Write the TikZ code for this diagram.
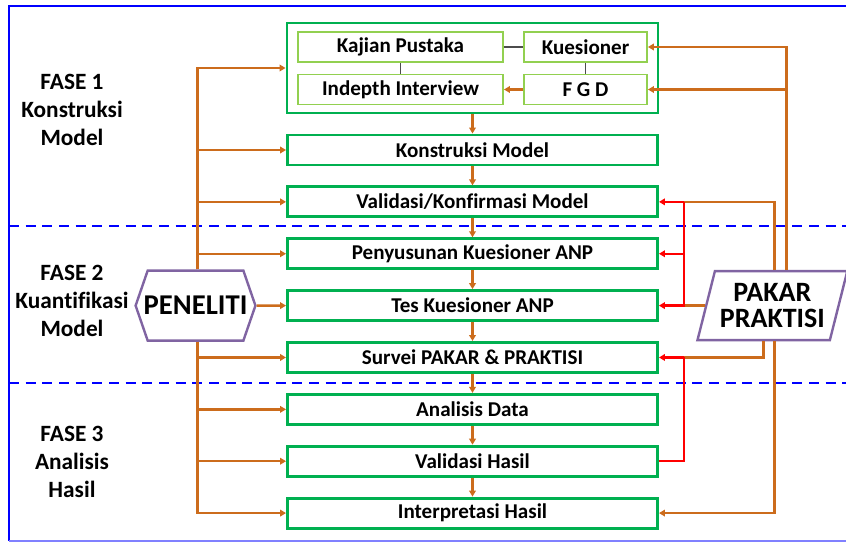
\documentclass[tikz,border=0pt]{standalone}
\usepackage{fontspec}
\setmainfont{Carlito}[Ligatures=NoCommon]
\usetikzlibrary{positioning,arrows.meta,shapes.geometric,shapes.symbols}

\definecolor{boxgreen}{RGB}{0,176,80}
\definecolor{lightgreen}{RGB}{146,208,80}
\definecolor{orangeline}{RGB}{204,108,28}
\definecolor{redline}{RGB}{255,0,0}
\definecolor{purpleline}{RGB}{128,100,162}
\definecolor{phaseblue}{RGB}{0,0,255}

\tikzset{
  stage/.style={draw=boxgreen, line width=2.2pt, minimum width=277.5pt, minimum height=22.5pt,
    inner sep=0pt, font=\bfseries\fontsize{15.8}{17}\selectfont},
  substage/.style={draw=lightgreen, line width=1.4pt, minimum height=22.5pt, inner sep=0pt,
    font=\bfseries\fontsize{15.8}{17}\selectfont},
  phase/.style={align=center, font=\bfseries\fontsize{17.5}{21}\selectfont},
  actor/.style={draw=purpleline, line width=1.8pt, fill=white, inner sep=0pt, align=center},
  oline/.style={draw=orangeline, line width=1.8pt},
  oarr/.style={oline, -{Triangle[width=5pt,length=4.5pt]}},
  rline/.style={draw=redline, line width=1.8pt},
  rarr/.style={rline, -{Triangle[width=5pt,length=4.5pt]}},
  link/.style={draw=black!70, line width=0.8pt},
  phasesep/.style={draw=phaseblue, line width=1.8pt, dash pattern=on 7.5pt off 5pt},
}

\begin{document}
\begin{tikzpicture}[x=0.75pt, y=-0.75pt, node distance=38.9pt]
\useasboundingbox (0,0) rectangle (846,543);

% frame and phase separators
\draw[phaseblue, line width=1.5pt] (846,6) -- (9,6) -- (9,541);
\draw[phaseblue!50, line width=1.5pt] (9,541) -- (846,541);
\draw[phasesep] (9,226) -- (846,226);
\draw[phasesep] (9,383) -- (846,383);

% phase labels
\node[phase] (fase1) at (72,110) {FASE 1\\Konstruksi\\Model};
\node[phase] (fase2) at (72,301) {FASE 2\\Kuantifikasi\\Model};
\node[phase] (fase3) at (72,462) {FASE 3\\Analisis\\Hasil};

% construction block
\node[stage, minimum width=278.25pt, minimum height=67.5pt] (konsblock) at (472.5,68) {};
\node[substage, minimum width=153.75pt] (kajian) at (400.5,47) {Kajian Pustaka};
\node[substage, minimum width=92.25pt] (kues) at (585.5,47) {Kuesioner};
\node[substage, minimum width=153.75pt] (indepth) at (400.5,89.5) {Indepth Interview};
\node[substage, minimum width=92.25pt] (fgd) at (585.5,89.5) {F G D};

\draw[link] (kajian) -- (kues);
\draw[link] (kajian) -- (indepth);
\draw[link] (kues) -- (fgd);
\draw[oarr] (fgd) -- (indepth);

% main column
\node[stage] (konstruksi) at (472.5,150) {Konstruksi Model};
\node[stage] (validasi) [below of=konstruksi] {Validasi/Konfirmasi Model};
\node[stage] (penyusunan) [below of=validasi] {Penyusunan Kuesioner ANP};
\node[stage] (tes) [below of=penyusunan] {Tes Kuesioner ANP};
\node[stage] (survei) [below of=tes] {Survei PAKAR \& PRAKTISI};
\node[stage] (analisis) [below of=survei] {Analisis Data};
\node[stage] (valhasil) [below of=analisis] {Validasi Hasil};
\node[stage] (interpretasi) [below of=valhasil] {Interpretasi Hasil};

\draw[oarr] (konsblock) -- (konstruksi);
\draw[oarr] (konstruksi) -- (validasi);
\draw[oarr] (validasi) -- (penyusunan);
\draw[oarr] (penyusunan) -- (tes);
\draw[oarr] (tes) -- (survei);
\draw[oarr] (survei) -- (analisis);
\draw[oarr] (analisis) -- (valhasil);
\draw[oarr] (valhasil) -- (interpretasi);

% actors
\node[actor, signal, signal from=nowhere, signal to=east and west, signal pointer angle=142,
  inner xsep=-3pt, minimum height=52.5pt, font=\bfseries\fontsize{21.5}{22}\selectfont]
  (peneliti) [left=22pt of tes] {PENELITI};
\node[actor, trapezium, trapezium left angle=70, trapezium right angle=110, trapezium stretches,
  minimum width=112.5pt, minimum height=51.75pt, font=\bfseries\fontsize{21}{19}\selectfont]
  (pakar) [right=34.5pt of tes] {PAKAR\\PRAKTISI};

% researcher connectors
\draw[oarr] ([xshift=1.5pt]peneliti.north) |- (konsblock.west);
\draw[oarr] ([xshift=1.5pt]peneliti.north) |- (konstruksi.west);
\draw[oarr] ([xshift=1.5pt]peneliti.north) |- (validasi.west);
\draw[oarr] ([xshift=1.5pt]peneliti.north) |- (penyusunan.west);
\draw[oarr] (peneliti) -- (tes);
\draw[oarr] ([xshift=1.5pt]peneliti.south) |- (survei.west);
\draw[oarr] ([xshift=1.5pt]peneliti.south) |- (analisis.west);
\draw[oarr] ([xshift=1.5pt]peneliti.south) |- (valhasil.west);
\draw[oarr] ([xshift=1.5pt]peneliti.south) |- (interpretasi.west);

% expert connectors
\coordinate (redtop) at ([xshift=18.75pt]validasi.east);
\coordinate (redlow) at ([xshift=18.75pt]survei.east);

\draw[oarr] ([xshift=10.5pt]pakar.north) |- (kues.east);
\draw[oarr] ([xshift=10.5pt]pakar.north) |- (fgd.east);
\draw[oline] ([xshift=1.5pt]pakar.north) |- (redtop);
\draw[oline] (pakar.west) -- (redtop |- tes.east);
\draw[rarr] (redtop) -- (validasi.east);
\draw[rarr] (redtop |- penyusunan.east) -- (penyusunan.east);
\draw[rarr] (redtop) |- (tes.east);

\draw[oline] ([xshift=-6.75pt]pakar.south) |- (redlow);
\draw[rarr] (redlow) -- (survei.east);
\draw[rline] (redlow) |- (valhasil.east);
\draw[oarr] ([xshift=1.5pt]pakar.south) |- (interpretasi.east);

\end{tikzpicture}
\end{document}
